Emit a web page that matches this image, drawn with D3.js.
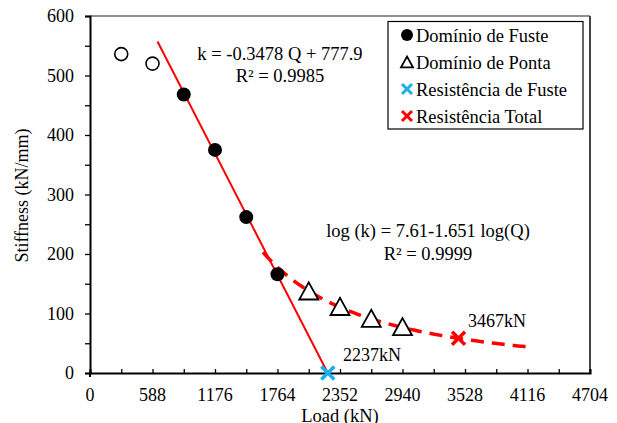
<!DOCTYPE html>
<html>
<head>
<meta charset="utf-8">
<script src="https://cdn.jsdelivr.net/npm/d3@7"></script>
<style>
  html, body { margin: 0; padding: 0; background: #fff; }
  svg text { font-family: "Liberation Serif", "Times New Roman", serif; fill: #000; }
</style>
</head>
<body>
<svg id="chart" width="617" height="423"></svg>
<script>
// Load (kN) and stiffness (kN/mm) readings
const openLoads = [294, 588];
const openStiff = [536, 520];
const shaftLoads = [882, 1176, 1470, 1764];
const shaftStiff = [468, 375, 262, 166];
const tipLoads = [2058, 2352, 2646, 2940];
const tipStiff = [135, 109, 89, 75];

// Fitted trend lines
const linSlope = -0.3478, linIntercept = 777.9;      // k = a Q + b
const linRange = [635, 2237];
const logA = 7.61, logB = 1.651;                      // log(k) = A - B log(Q)
const logRange = [1627, 4155];

// Capacity markers
const shaftCapacity = 2237;
const totalCapacity = 3467;

const xTicks = [0, 588, 1176, 1764, 2352, 2940, 3528, 4116, 4704];
const yTicks = [0, 100, 200, 300, 400, 500, 600];
const legendLabels = ["Domínio de Fuste", "Domínio de Ponta", "Resistência de Fuste", "Resistência Total"];

const svg = d3.select("#chart");
const x = d3.scaleLinear().domain([0, 4704]).range([90, 590]);
const y = d3.scaleLinear().domain([0, 600]).range([373, 16]);

const linK = q => linSlope * q + linIntercept;
const logK = q => Math.pow(10, logA - logB * Math.log10(q));

const fsTick = 18, fsText = 18.5;

// frame (top & right)
svg.append("line").attr("x1", x(0)).attr("x2", x(4704)).attr("y1", y(600)).attr("y2", y(600))
  .attr("stroke", "#222").attr("stroke-width", 1.2);
svg.append("line").attr("x1", x(4704)).attr("x2", x(4704)).attr("y1", y(600)).attr("y2", y(0))
  .attr("stroke", "#444").attr("stroke-width", 2);

// x axis: inward ticks every 294, labels every 588
const xAxis = d3.axisBottom(x).tickValues(d3.range(0, 4705, 294)).tickSize(-4).tickFormat("");
const gx = svg.append("g").attr("transform", `translate(0,${y(0)})`).call(xAxis);
gx.select(".domain").attr("stroke", "#000").attr("stroke-width", 2);
gx.selectAll(".tick line").attr("stroke", "#000").attr("stroke-width", 1.3);
svg.append("line").attr("x1", x(0)).attr("x2", x(0)).attr("y1", y(0)).attr("y2", y(0) + 4)
  .attr("stroke", "#000").attr("stroke-width", 2);
svg.append("g").selectAll("text").data(xTicks).join("text")
  .attr("x", d => x(d)).attr("y", 401).attr("text-anchor", "middle")
  .attr("font-size", fsTick).text(d => d);

// y axis: outward ticks every 50, labels every 100
const yAxis = d3.axisLeft(y).tickValues(d3.range(0, 601, 50)).tickSize(5).tickFormat("");
const gy = svg.append("g").attr("transform", `translate(${x(0)},0)`).call(yAxis);
gy.select(".domain").attr("stroke", "#000").attr("stroke-width", 2);
gy.selectAll(".tick line").attr("stroke", "#000").attr("stroke-width", 1.3);
svg.append("g").selectAll("text").data(yTicks).join("text")
  .attr("x", 74).attr("y", d => y(d)).attr("dy", "0.34em").attr("text-anchor", "end")
  .attr("font-size", fsTick).text(d => d);

// axis titles
svg.append("text").attr("x", 340).attr("y", 421.5).attr("text-anchor", "middle")
  .attr("font-size", fsText).text("Load (kN)");
svg.append("text").attr("transform", `translate(28,${y(300) + 1}) rotate(-90)`)
  .attr("text-anchor", "middle").attr("font-size", fsTick).text("Stiffness (kN/mm)");

// trend lines
svg.append("path")
  .attr("d", d3.line()(linRange.map(q => [x(q), y(linK(q))])))
  .attr("stroke", "#ff0000").attr("stroke-width", 2).attr("fill", "none");
const logPts = d3.range(logRange[0], logRange[1] + 1, 20).map(q => [x(q), y(logK(q))]);
svg.append("path")
  .attr("d", d3.line()(logPts))
  .attr("stroke", "#ff0000").attr("stroke-width", 3.5).attr("fill", "none")
  .attr("stroke-dasharray", "13,8");

// points
svg.append("g").selectAll("circle").data(openLoads).join("circle")
  .attr("cx", d => x(d)).attr("cy", (d, i) => y(openStiff[i])).attr("r", 6.5)
  .attr("fill", "#fff").attr("stroke", "#000").attr("stroke-width", 1.6);
svg.append("g").selectAll("circle").data(shaftLoads).join("circle")
  .attr("cx", d => x(d)).attr("cy", (d, i) => y(shaftStiff[i])).attr("r", 7)
  .attr("fill", "#000");

const tri = (cx, cy, w) => {
  const h = w * 0.9;
  return `M${cx},${cy - h * 0.6}L${cx + w / 2},${cy + h * 0.4}L${cx - w / 2},${cy + h * 0.4}Z`;
};
svg.append("g").selectAll("path").data(tipLoads).join("path")
  .attr("d", (d, i) => tri(x(d), y(tipStiff[i]), 19))
  .attr("fill", "#fff").attr("stroke", "#000").attr("stroke-width", 1.8);

const cross = (cx, cy, s) =>
  `M${cx - s},${cy - s}L${cx + s},${cy + s}M${cx - s},${cy + s}L${cx + s},${cy - s}`;
svg.append("path").attr("d", cross(x(shaftCapacity), y(linK(shaftCapacity)), 6.5))
  .attr("stroke", "#1ab0ea").attr("stroke-width", 3.5).attr("fill", "none");
svg.append("path").attr("d", cross(x(totalCapacity), y(logK(totalCapacity)), 6.5))
  .attr("stroke", "#ff0000").attr("stroke-width", 3.5).attr("fill", "none");

// value labels
svg.append("text").attr("x", 343).attr("y", 361).attr("font-size", fsTick).text(shaftCapacity + "kN");
svg.append("text").attr("x", 468).attr("y", 327).attr("font-size", fsTick).text(totalCapacity + "kN");

// equations
const eq1 = svg.append("text").attr("text-anchor", "middle").attr("font-size", fsText);
eq1.append("tspan").attr("x", 280).attr("y", 60).text(`k = ${linSlope} Q + ${linIntercept}`);
eq1.append("tspan").attr("x", 280).attr("y", 82).text("R² = 0.9985");
const eq2 = svg.append("text").attr("text-anchor", "middle").attr("font-size", fsText);
eq2.append("tspan").attr("x", 428).attr("y", 237).text(`log (k) = ${logA}-${logB} log(Q)`);
eq2.append("tspan").attr("x", 428).attr("y", 260).text("R² = 0.9999");

// legend
const lg = svg.append("g");
lg.append("rect").attr("x", 388).attr("y", 21.5).attr("width", 195).attr("height", 107.5)
  .attr("fill", "#fff").attr("stroke", "#000").attr("stroke-width", 1.2);
const rowY = i => 35 + i * 27;
lg.append("circle").attr("cx", 407).attr("cy", rowY(0)).attr("r", 6).attr("fill", "#000");
lg.append("path").attr("d", tri(407, rowY(1) + 1, 12)).attr("fill", "#fff")
  .attr("stroke", "#000").attr("stroke-width", 1.8);
lg.append("path").attr("d", cross(407, rowY(2), 5)).attr("stroke", "#1ab0ea")
  .attr("stroke-width", 3).attr("fill", "none");
lg.append("path").attr("d", cross(407, rowY(3), 5)).attr("stroke", "#ff0000")
  .attr("stroke-width", 3).attr("fill", "none");
lg.selectAll("text.lbl").data(legendLabels).join("text").attr("class", "lbl")
  .attr("x", 416).attr("y", (d, i) => rowY(i) + 6.5).attr("font-size", fsText).text(d => d);
</script>
</body>
</html>
